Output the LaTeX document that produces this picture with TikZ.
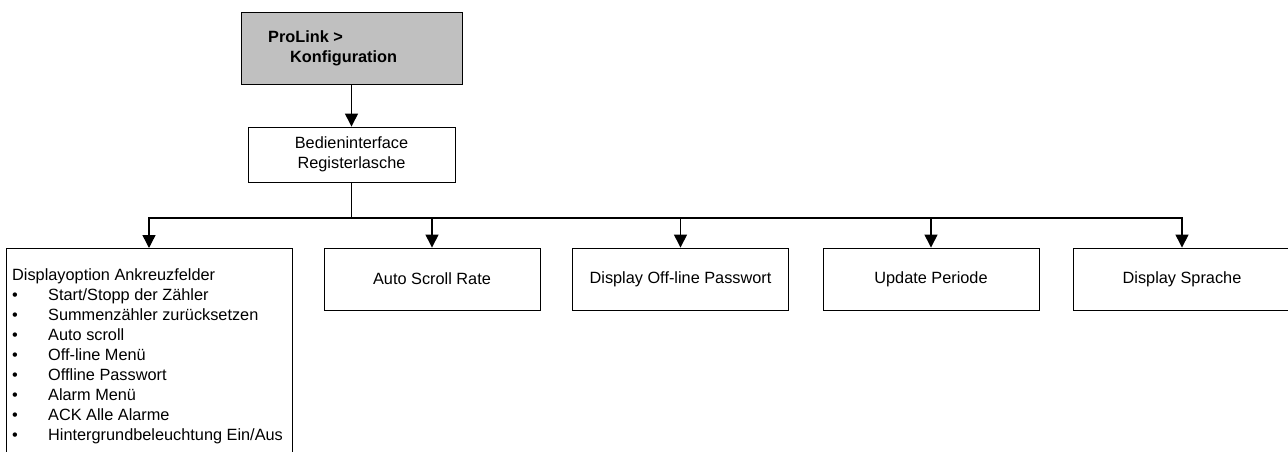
\documentclass[tikz,border=0pt]{standalone}
\usepackage{fontspec}
\setmainfont{Liberation Sans}
\usetikzlibrary{arrows.meta}
\definecolor{topgray}{RGB}{192,192,192}
\begin{document}
\begin{tikzpicture}[x=1pt,y=-1pt,
  txt/.style={font=\fontsize{16.3}{20}\selectfont},
  box/.style={draw=black, line width=0.9pt, minimum width=216pt, minimum height=62pt, inner sep=0pt, align=center, txt},
  conn/.style={line width=1.4pt},
  arr/.style={conn,-{Triangle[length=13pt,width=13pt]}}]
\useasboundingbox (0,0) rectangle (1288,452);
\clip (0,0) rectangle (1288,452);
\fill[white] (0,0) rectangle (1288,452);
% top
\node[box, fill=topgray, minimum width=221pt, minimum height=72pt] (top) at (351.5,48) {};
\node[anchor=west, align=left, inner sep=0pt, font=\fontsize{16.3}{20}\selectfont\bfseries] (toptxt) at (268,48) {ProLink >\\\hspace*{22pt}Konfiguration};
\node[box, minimum width=207pt, minimum height=55pt] (reg) at (351.5,154.5) {Bedieninterface\\Registerlasche};
% children
\node[box, minimum width=286pt, minimum height=240pt, anchor=north] (disp) at (149,248) {};
\node[anchor=north west, align=left, inner sep=0pt, txt] (disptxt) at (12,268) {Displayoption Ankreuzfelder\\
\makebox[36pt][l]{\textbullet}Start/Stopp der Zähler\\
\makebox[36pt][l]{\textbullet}Summenzähler zurücksetzen\\
\makebox[36pt][l]{\textbullet}Auto scroll\\
\makebox[36pt][l]{\textbullet}Off-line Menü\\
\makebox[36pt][l]{\textbullet}Offline Passwort\\
\makebox[36pt][l]{\textbullet}Alarm Menü\\
\makebox[36pt][l]{\textbullet}ACK Alle Alarme\\
\makebox[36pt][l]{\textbullet}Hintergrundbeleuchtung Ein/Aus};
\node[box] (asr) at (432,279) {Auto Scroll Rate};
\node[box] (dop) at (680.5,279) {Display Off-line Passwort};
\node[box] (upd) at (931,279) {Update Periode};
\node[box, minimum width=218pt] (spr) at (1182,279) {Display Sprache};
% connectors
\draw[arr] (top) -- (reg);
\coordinate (bus) at (351.5,218);
\draw[conn] (reg.south) -- (bus);
\draw[arr] (bus) -| (disp.north);
\draw[arr] (bus) -| (asr.north);
\draw[arr] (bus) -| (dop.north);
\draw[arr] (bus) -| (upd.north);
\draw[arr] (bus) -| (spr.north);
\end{tikzpicture}
\end{document}
